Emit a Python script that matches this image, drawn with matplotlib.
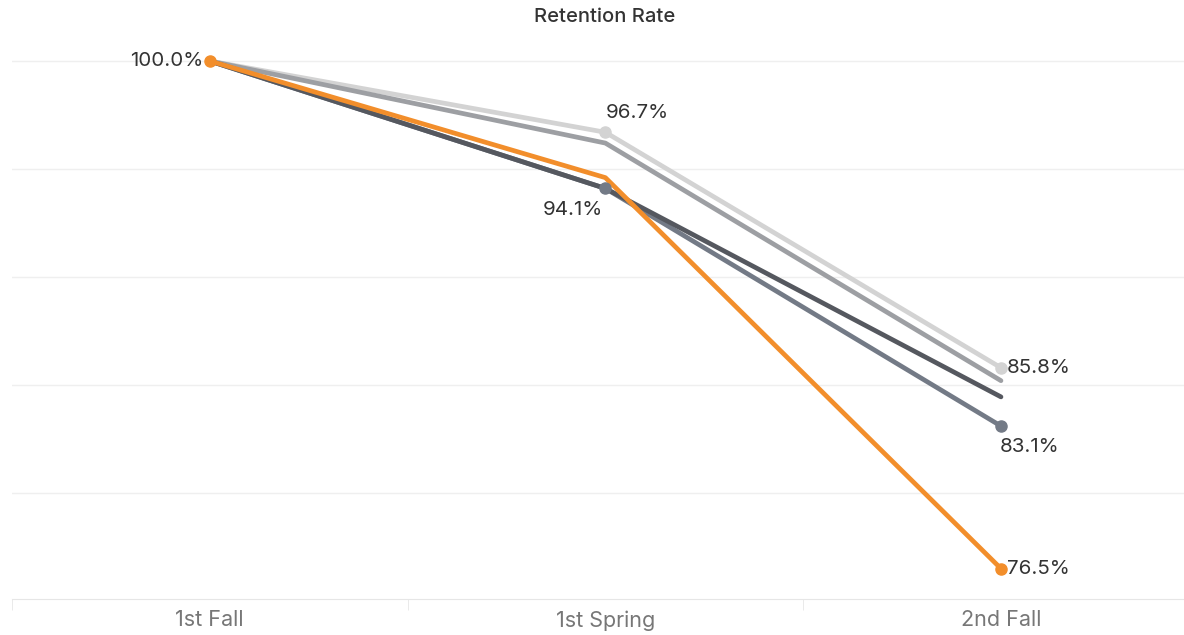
import numpy as np
import matplotlib
matplotlib.use('Agg')
from matplotlib import pyplot as plt

plt.rcParams['font.family'] = ['Inter', 'DejaVu Sans']

terms = ['1st Fall', '1st Spring', '2nd Fall']

# retention (%) per cohort
light_gray = [100.0, 96.7, 85.8]
mid_gray = [100.0, 96.2, 85.2]
blue_gray = [100.0, 94.1, 83.1]
dark_gray = [100.0, 94.1, 84.45]
orange = [100.0, 94.6, 76.5]

series = [
    (light_gray, '#d3d3d3'),
    (mid_gray, '#9d9fa3'),
    (blue_gray, '#737a86'),
    (dark_gray, '#55585f'),
    (orange, '#f28e2b'),
]

# labelled points: (series values, index, text offset px, ha, va)
labels = [
    (orange, 0, (-6, 0), 'right', 'center'),
    (light_gray, 1, (0, 10), 'left', 'bottom'),
    (blue_gray, 1, (-2, -13), 'right', 'top'),
    (light_gray, 2, (6, 0), 'left', 'center'),
    (blue_gray, 2, (-1, -12), 'left', 'top'),
    (orange, 2, (6, 0), 'left', 'center'),
]

W, H = 1184, 635
PX = 21.6  # pixels per percentage point
fig = plt.figure(figsize=(W / 100, H / 100), dpi=100)
ax = fig.add_axes([12 / W, 1 - 599 / H, (W - 12) / W, (599 - 35) / H])

x = np.arange(len(terms))
for vals, col in series:
    ax.plot(x, vals, color=col, lw=3.4, solid_capstyle='round', zorder=3)

for vals, i, off, ha, va in labels:
    col = [c for v, c in series if v is vals][0]
    ax.plot(x[i], vals[i], 'o', color=col, ms=8, zorder=4)
    ax.annotate(f'{vals[i]:.1f}%', (x[i], vals[i]), xytext=off,
                textcoords='offset pixels', ha=ha, va=va,
                fontsize=14.8, color='#333333')

ax.set_xlim(-0.5, 2 + (W - 1001) / 395.5)
ax.set_ylim(100 - (599 - 61) / PX, 100 + (61 - 35) / PX)

for g in [80, 85, 90, 95, 100]:
    ax.axhline(g, color='#efefef', lw=1, zorder=1)

for s in ['top', 'right', 'left']:
    ax.spines[s].set_visible(False)
ax.spines['bottom'].set_color('#e6e6e6')
ax.set_yticks([])
ax.set_xticks(x)
ax.set_xticklabels(terms, fontsize=15.5, color='#777777')
ax.tick_params(axis='x', length=0, pad=8)
ax.set_xticks([-0.5, 0.5, 1.5], minor=True)
ax.tick_params(axis='x', which='minor', length=8, color='#e6e6e6')

fig.text(605 / W, 1 - 17 / H, 'Retention Rate', ha='center', va='center',
         fontsize=14.5, fontweight='medium', color='#333333')

fig.savefig('out.png', dpi=100)
